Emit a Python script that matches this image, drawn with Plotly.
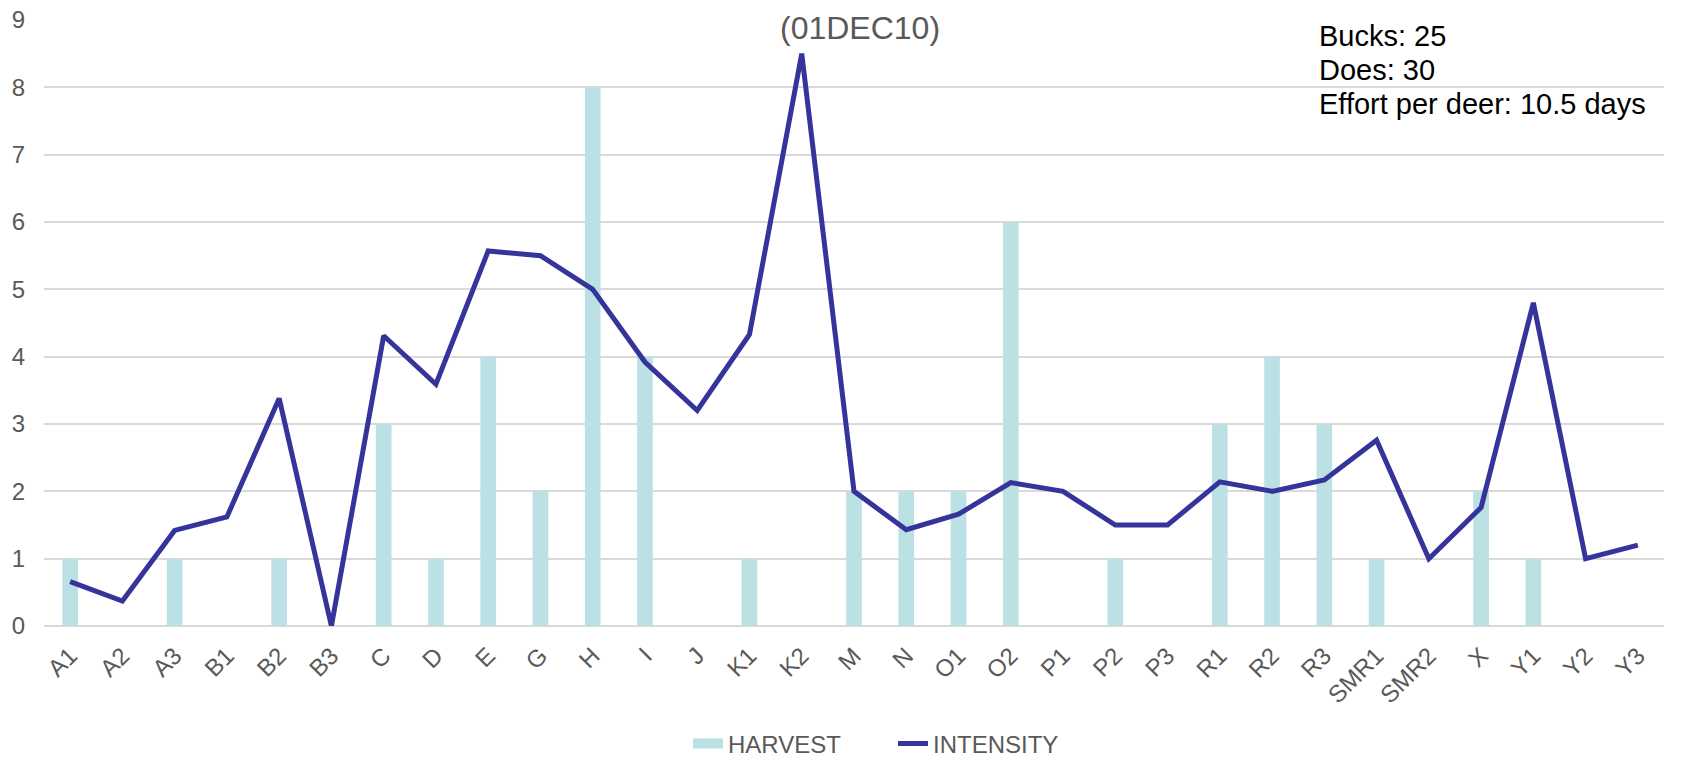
import plotly.graph_objects as go

categories = ["A1", "A2", "A3", "B1", "B2", "B3", "C", "D", "E", "G", "H", "I", "J",
              "K1", "K2", "M", "N", "O1", "O2", "P1", "P2", "P3", "R1", "R2", "R3",
              "SMR1", "SMR2", "X", "Y1", "Y2", "Y3"]
harvest = [1, 0, 1, 0, 1, 0, 3, 1, 4, 2, 8, 4, 0,
           1, 0, 2, 2, 2, 6, 0, 1, 0, 3, 4, 3,
           1, 0, 2, 1, 0, 0]
intensity = [0.66, 0.37, 1.42, 1.62, 3.38, 0.0, 4.31, 3.59, 5.57, 5.5, 5.0, 3.92, 3.2,
             4.33, 8.5, 2.0, 1.43, 1.66, 2.13, 2.0, 1.5, 1.5, 2.14, 2.0, 2.17,
             2.76, 1.0, 1.76, 4.8, 1.0, 1.2]
title_text = "(01DEC10)"
info_lines = ["Bucks: 25", "Does: 30", "Effort per deer: 10.5 days"]

FONT = "Liberation Sans, Arial, sans-serif"
GRAY = "#595959"
BAR_COLOR = "#BCE1E4"
LINE_COLOR = "#35349B"

W, H = 1690, 757
ML, MR, MT, MB = 36, 34, 12, 139
PH = H - MT - MB
PW = W - ML - MR


def py(ypix):
    """figure pixel row (from top) -> paper y"""
    return (H - MB - ypix) / PH


def px(xpix):
    return (xpix - ML) / PW


fig = go.Figure()
fig.add_trace(go.Bar(x=categories, y=harvest, name="HARVEST", showlegend=False,
                     legendgroup="h", marker=dict(color=BAR_COLOR, line=dict(width=0))))
# legend swatch for the bars (wide, like the original)
fig.add_trace(go.Scatter(x=[None], y=[None], name="HARVEST", mode="lines", legendgroup="h",
                         line=dict(color=BAR_COLOR, width=12), hoverinfo="skip"))
fig.add_trace(go.Scatter(x=categories, y=intensity, name="INTENSITY", mode="lines",
                         line=dict(color=LINE_COLOR, width=5)))

fig.add_annotation(text=title_text, xref="paper", yref="paper", x=px(852), y=py(0),
                   xanchor="center", yanchor="top", showarrow=False,
                   font=dict(family=FONT, size=32, color=GRAY))
for i, line in enumerate(info_lines):
    fig.add_annotation(text=line, xref="paper", yref="paper",
                       x=px(1309), y=py(28 + 34 * i), xanchor="left", yanchor="middle",
                       align="left", showarrow=False,
                       font=dict(family=FONT, size=29, color="#000000"))

fig.update_layout(
    width=W, height=H,
    margin=dict(l=ML, r=MR, t=MT, b=MB, autoexpand=False),
    paper_bgcolor="white", plot_bgcolor="white",
    bargap=0.7,
    font=dict(family=FONT, color=GRAY, size=24),
    showlegend=True,
    legend=dict(orientation="h", xref="container", yref="container",
                x=(693 - 8 - 5) / W, y=21 / H, xanchor="left", yanchor="middle",
                entrywidth=160, traceorder="normal",
                font=dict(family=FONT, size=24, color=GRAY)),
    xaxis=dict(tickangle=-45, showgrid=False, showline=False, ticks="", automargin=False,
               ticklabelstandoff=10,
               tickfont=dict(family=FONT, size=24, color=GRAY)),
    yaxis=dict(range=[0, 9], dtick=1, showgrid=True, gridcolor="#D9D9D9", gridwidth=1.5,
               zeroline=True, zerolinecolor="#D9D9D9", zerolinewidth=1.5,
               showline=False, ticks="", automargin=False, ticklabelstandoff=18,
               ticklabeloverflow="allow",
               tickfont=dict(family=FONT, size=24, color=GRAY)),
)

fig.write_html("out.html")
